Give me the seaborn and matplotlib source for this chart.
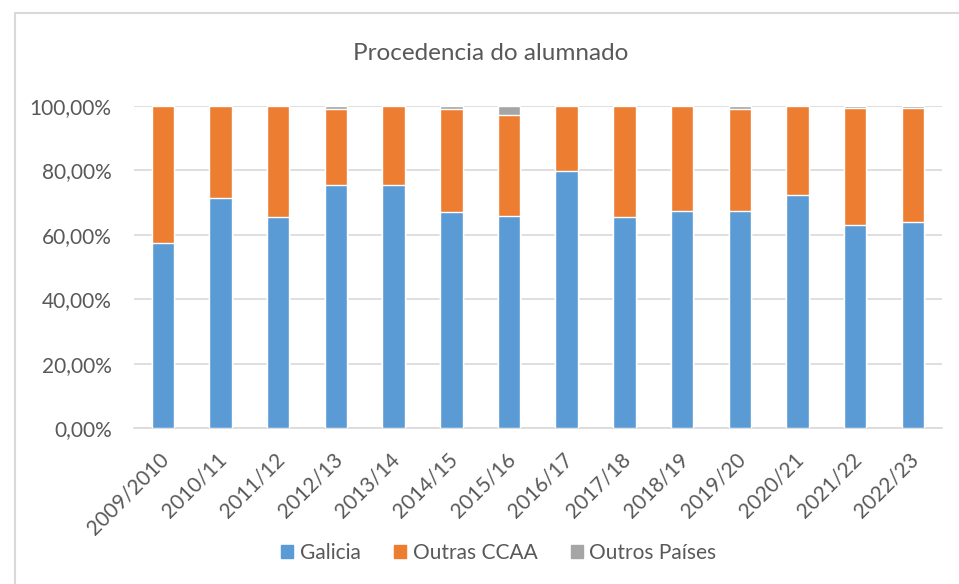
import pandas as pd
import numpy as np
import matplotlib.pyplot as plt
import matplotlib.ticker as mticker
import matplotlib.transforms as mtransforms
from matplotlib.patches import Rectangle
import seaborn as sns

# data (percent)
cursos = ["2009/2010", "2010/11", "2011/12", "2012/13", "2013/14", "2014/15", "2015/16",
          "2016/17", "2017/18", "2018/19", "2019/20", "2020/21", "2021/22", "2022/23"]
galicia = [57.5, 71.5, 65.4, 75.5, 75.5, 67.1, 65.9, 79.6, 65.4, 67.4, 67.4, 72.3, 63.1, 63.8]
outras_ccaa = [42.5, 28.5, 34.6, 23.4, 24.5, 31.8, 31.3, 20.4, 34.6, 32.6, 31.5, 27.7, 36.1, 35.4]
outros_paises = [0.0, 0.0, 0.0, 1.1, 0.0, 1.1, 2.8, 0.0, 0.0, 0.0, 1.1, 0.0, 0.8, 0.8]

azul = "#5B9BD5"
laranxa = "#ED7D31"
gris = "#A5A5A5"
texto = "#595959"

df = pd.DataFrame({"curso": cursos, "Galicia": galicia,
                   "Outras CCAA": outras_ccaa, "Outros Países": outros_paises})
# cumulative heights so bars drawn on top of each other look stacked
df["tot3"] = df["Galicia"] + df["Outras CCAA"] + df["Outros Países"]
df["tot2"] = df["Galicia"] + df["Outras CCAA"]

sns.set_style("white")
plt.rcParams["font.family"] = ["Lato", "DejaVu Sans"]

fig = plt.figure(figsize=(9.59, 5.84), dpi=100)
ax = fig.add_axes([0.1397, 0.267, 0.8423, 0.552])

w = 0.39
sns.barplot(data=df, x="curso", y="tot3", color=gris, width=w, saturation=1, ax=ax, zorder=2)
sns.barplot(data=df, x="curso", y="tot2", color=laranxa, width=w, saturation=1, ax=ax, zorder=3)
sns.barplot(data=df, x="curso", y="Galicia", color=azul, width=w, saturation=1, ax=ax, zorder=4)

ax.set_xlim(-0.5, len(cursos) - 0.5)
ax.set_ylim(0, 100)
ax.set_yticks(np.arange(0, 101, 20))
ax.yaxis.set_major_formatter(mticker.FuncFormatter(lambda v, p: f"{v:.2f}%".replace(".", ",")))
ax.grid(axis="y", color="#D9D9D9", linewidth=1.2, zorder=0)
ax.set_axisbelow(True)
for s in ["top", "right", "left"]:
    ax.spines[s].set_visible(False)
ax.spines["bottom"].set_color("#D9D9D9")
ax.spines["bottom"].set_linewidth(1.2)
ax.set_xlabel("")
ax.set_ylabel("")
ax.tick_params(axis="both", length=0, labelsize=15, labelcolor=texto)
ax.tick_params(axis="y", pad=16)
ax.tick_params(axis="x", pad=15)
#nudge rotated labels a bit left so their end sits under the bar
offset = mtransforms.ScaledTranslation(-4 / 100, 0, fig.dpi_scale_trans)
for lab in ax.get_xticklabels():
    lab.set_rotation(45)
    lab.set_ha("right")
    lab.set_rotation_mode("anchor")
    lab.set_transform(lab.get_transform() + offset)

fig.text(0.512, 0.909, "Procedencia do alumnado", ha="center", va="center",
         fontsize=17.5, color=texto)

handles = [Rectangle((0, 0), 1, 1, color=c) for c in [azul, laranxa, gris]]
fig.legend(handles, ["Galicia", "Outras CCAA", "Outros Países"], loc="center",
           bbox_to_anchor=(0.52, 0.053), ncol=3, frameon=False, fontsize=15,
           labelcolor=texto, handlelength=0.6, handleheight=0.6, handletextpad=0.3,
           columnspacing=1.6)

# chart frame like the excel chart area
fig.patches.append(Rectangle((15 / 959, -0.05), 1.1, 1 - 13 / 584 + 0.05,
                             transform=fig.transFigure, fill=False,
                             edgecolor="#D9D9D9", linewidth=1.5))

plt.savefig("out.png", dpi=100)
